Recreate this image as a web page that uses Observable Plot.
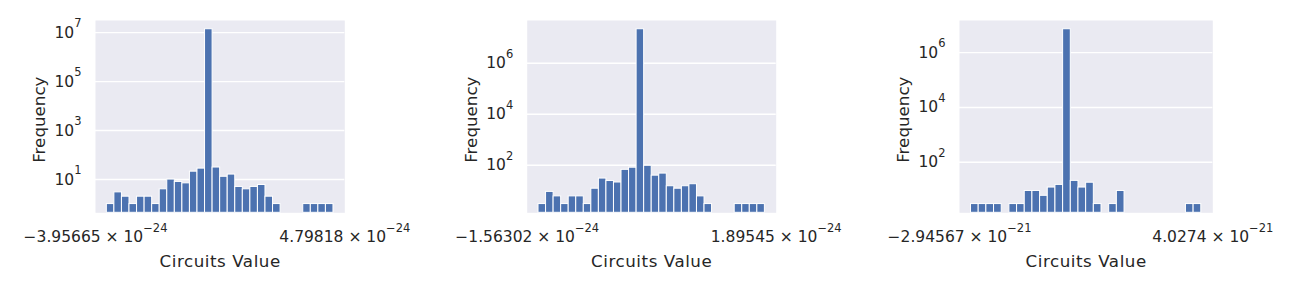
<!DOCTYPE html>
<html><head><meta charset="utf-8">
<script src="https://cdn.jsdelivr.net/npm/d3@7"></script>
<script src="https://cdn.jsdelivr.net/npm/@observablehq/plot@0.6"></script>
<style>
body{margin:0;background:#fff;}
#row{display:flex;width:1296px;height:288px;}
#row svg{display:block;}
</style></head><body><div id="row"></div>
<script>
// ---- data ----
const countsA = [1,3,2,1,2,2,1,4,10,8,7,21,28,13700000,31,13,16,5,4,5,6,2,1,0,0,0,1,1,1,1];
const countsB = [3,9,6,3,6,6,3,12,30,24,21,66,80,21500000,95,39,47,15,12,15,18,6,3,0,0,0,3,3,3,3];
const countsC = [3,3,3,3,0,3,3,9,9,6,12,15,7100000,21,12,18,3,0,3,9,0,0,0,0,0,0,0,0,3,3];
const xLimA = [-3.95665e-24, 4.79818e-24];
const xLimB = [-1.56302e-24, 1.89545e-24];
const xLimC = [-2.94567e-21, 4.0274e-21];
const yTicksA = [1e1, 1e3, 1e5, 1e7];
const yTicksB = [1e2, 1e4, 1e6];
const yTicksC = [1e2, 1e4, 1e6];
const xLabel = "Circuits Value";
const yLabel = "Frequency";

const panels = [
  {counts: countsA, xLim: xLimA, yTicks: yTicksA, ml: 95, mr: 87.7},
  {counts: countsB, xLim: xLimB, yTicks: yTicksB, ml: 94.7, mr: 88.3},
  {counts: countsC, xLim: xLimC, yTicks: yTicksC, ml: 95, mr: 83.7}
];

const BLUE = "#4c72b0", BG = "#eaeaf2", INK = "#262626";
const TICK_FS = 15.5, LABEL_FS = 16.7;

function fmtX(v) {
  const e = Math.floor(Math.log10(Math.abs(v)));
  let m = (v / Math.pow(10, e)).toPrecision(6);
  if (m.includes(".")) m = m.replace(/0+$/, "").replace(/\.$/, "");
  m = m.replace("-", "\u2212");
  const es = (e < 0 ? "\u2212" : "") + Math.abs(e);
  return m + " \u00d7 10^" + es;
}
function fmtY(v) { return "10^" + Math.round(Math.log10(v)); }

function supify(svg) {
  const ns = "http://www.w3.org/2000/svg";
  svg.querySelectorAll("text").forEach(t => {
    const s = t.textContent;
    if (!s.includes("^")) return;
    const [base, sup] = s.split("^");
    t.textContent = "";
    const a = document.createElementNS(ns, "tspan"); a.textContent = base; t.appendChild(a);
    const b = document.createElementNS(ns, "tspan"); b.textContent = sup;
    b.setAttribute("font-size", "0.74em"); b.setAttribute("dy", "-0.92em");
    t.appendChild(b);
  });
}

const row = document.getElementById("row");
for (const p of panels) {
  const n = p.counts.length;
  const span = p.xLim[1] - p.xLim[0];
  const pad = span * 0.05 / 1.1;           // matplotlib 5% autoscale margin
  const lo = p.xLim[0] + pad, hi = p.xLim[1] - pad;
  const w = (hi - lo) / n;
  const pos = p.counts.filter(c => c > 0);
  const lmin = Math.log10(d3.min(pos)), lmax = Math.log10(d3.max(pos));
  const lp = (lmax - lmin) * 0.05;
  const yDom = [Math.pow(10, lmin - lp), Math.pow(10, lmax + lp)];
  const bins = p.counts.map((c, i) => ({x1: lo + i * w, x2: lo + (i + 1) * w, c})).filter(d => d.c > 0);

  const chart = Plot.plot({
    width: 432, height: 288,
    marginLeft: p.ml, marginRight: p.mr, marginTop: 20, marginBottom: 75.7,
    style: {fontFamily: "DejaVu Sans", color: INK, background: "white", fontSize: TICK_FS + "px"},
    x: {type: "linear", domain: p.xLim},
    y: {type: "log", domain: yDom},
    marks: [
      Plot.frame({fill: BG, stroke: null}),
      Plot.gridY(p.yTicks, {stroke: "white", strokeOpacity: 1, strokeWidth: 1.4}),
      Plot.rect(bins, {x1: "x1", x2: "x2", y1: yDom[0], y2: "c", fill: BLUE, stroke: "white", strokeWidth: 1}),
      Plot.axisY(p.yTicks, {tickSize: 0, tickPadding: 14, tickFormat: fmtY, fontSize: TICK_FS, label: null}),
      Plot.axisX(p.xLim, {tickSize: 0, tickPadding: 18.5, tickFormat: fmtX, fontSize: TICK_FS, label: null}),
      Plot.text([yLabel], {text: d => d, frameAnchor: "left", textAnchor: "middle", lineAnchor: "middle", rotate: -90, dx: -56, dy: 3, fontSize: LABEL_FS}),
      Plot.text([xLabel], {text: d => d, frameAnchor: "bottom", textAnchor: "middle", lineAnchor: "middle", dy: 49, fontSize: LABEL_FS})
    ]
  });
  supify(chart);
  // x label drawn slightly wider, like the hinted reference text
  d3.select(chart).selectAll("text").filter(function() { return this.textContent === xLabel; })
    .style("letter-spacing", "0.55px");
  row.appendChild(chart);
}
</script></body></html>
